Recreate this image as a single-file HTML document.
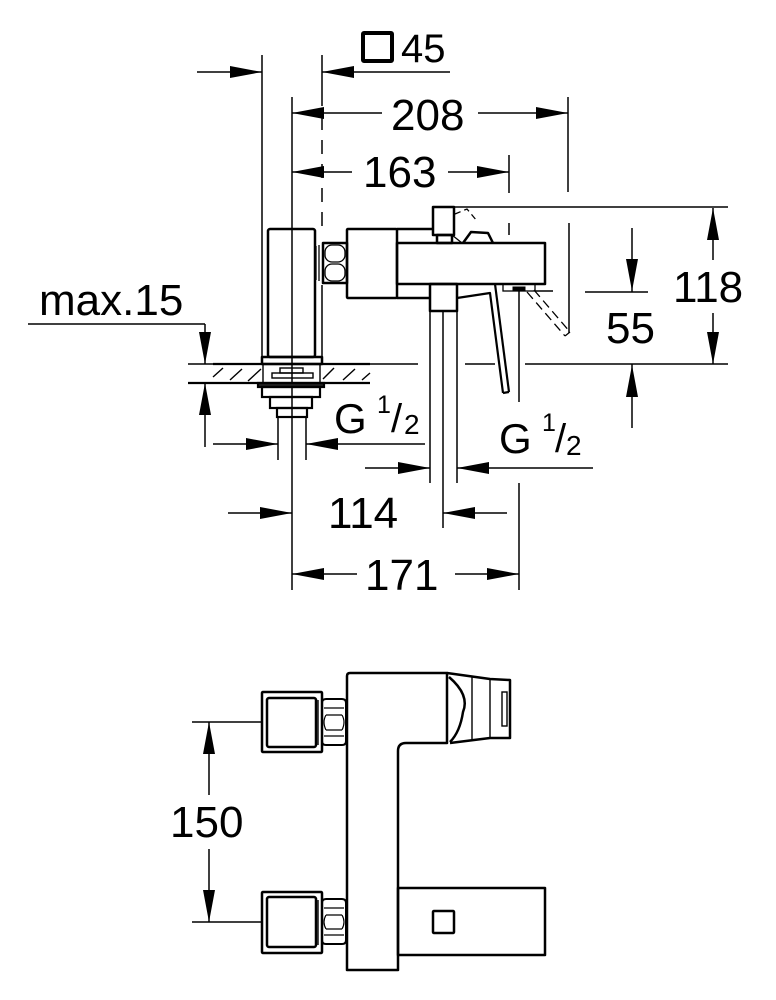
<!DOCTYPE html>
<html><head><meta charset="utf-8"><style>
html,body{margin:0;padding:0;background:#fff;}
svg{display:block;}
text{font-family:"Liberation Sans",Arial,sans-serif;fill:#000;}
</style></head><body>
<svg width="776" height="1000" viewBox="0 0 776 1000" xmlns="http://www.w3.org/2000/svg">
<g stroke="#000" fill="none" stroke-linecap="butt">

<!-- ============ DIMENSION LINES (thin) ============ -->
<g stroke-width="1.5">
  <!-- 45 -->
  <line x1="197" y1="72" x2="262" y2="72"/>
  <line x1="322" y1="72" x2="450" y2="72"/>
  <!-- 208 -->
  <line x1="292" y1="113" x2="382" y2="113"/>
  <line x1="478" y1="113" x2="568" y2="113"/>
  <line x1="568" y1="97" x2="568" y2="192"/>
  <!-- 163 -->
  <line x1="292" y1="172" x2="352" y2="172"/>
  <line x1="448" y1="172" x2="509" y2="172"/>
  <line x1="509" y1="155" x2="509" y2="193"/>
  <line x1="509" y1="223" x2="509" y2="235"/>
  <line x1="569" y1="223" x2="569" y2="333"/>
  <!-- long extension lines -->
  <line x1="262" y1="55" x2="262" y2="357"/>
  <line x1="292" y1="97" x2="292" y2="590"/>
  <line x1="322" y1="55" x2="322" y2="92"/>
  <line x1="322" y1="92" x2="322" y2="230" stroke-dasharray="14 10"/>
  <line x1="322" y1="285" x2="322" y2="357"/>
  <!-- top reference line 118 -->
  <line x1="454" y1="207" x2="728" y2="207"/>
  <!-- 55 upper extension -->
  <line x1="535" y1="291" x2="553" y2="291"/>
  <line x1="585" y1="292" x2="648" y2="292"/>
  <!-- deck level line -->
  <line x1="188" y1="364" x2="418" y2="364"/>
  <line x1="465" y1="364" x2="495" y2="364"/>
  <line x1="525" y1="364" x2="728" y2="364"/>
  <!-- 118 -->
  <line x1="713" y1="208" x2="713" y2="260"/>
  <line x1="713" y1="313" x2="713" y2="364"/>
  <!-- 55 -->
  <line x1="632" y1="228" x2="632" y2="292"/>
  <line x1="632" y1="364" x2="632" y2="428"/>
  <!-- max.15 -->
  <line x1="28" y1="324" x2="205" y2="324"/>
  <line x1="205" y1="324" x2="205" y2="364"/>
  <line x1="205" y1="383" x2="205" y2="447"/>
  <!-- G1/2 left -->
  <line x1="213" y1="444" x2="278" y2="444"/>
  <line x1="306" y1="444" x2="425" y2="444"/>
  <line x1="278" y1="417" x2="278" y2="460"/>
  <line x1="306" y1="417" x2="306" y2="460"/>
  <!-- tube -->
  <line x1="430" y1="311" x2="430" y2="483"/>
  <line x1="443" y1="311" x2="443" y2="528"/>
  <line x1="457" y1="311" x2="457" y2="483"/>
  <!-- outlet centre line -->
  <line x1="519" y1="291" x2="519" y2="402"/>
  <line x1="519" y1="483" x2="519" y2="590"/>
  <!-- G1/2 right -->
  <line x1="365" y1="468" x2="430" y2="468"/>
  <line x1="457" y1="468" x2="593" y2="468"/>
  <!-- 114 -->
  <line x1="228" y1="513" x2="292" y2="513"/>
  <line x1="443" y1="513" x2="507" y2="513"/>
  <!-- 171 -->
  <line x1="292" y1="574" x2="357" y2="574"/>
  <line x1="455" y1="574" x2="519" y2="574"/>
  <!-- 150 -->
  <line x1="192" y1="722" x2="262" y2="722"/>
  <line x1="192" y1="922" x2="262" y2="922"/>
  <line x1="209" y1="722" x2="209" y2="795"/>
  <line x1="209" y1="849" x2="209" y2="922"/>
</g>

<!-- ============ ARROWHEADS ============ -->
<g fill="#000" stroke="none">
  <!-- 45 -->
  <polygon points="262,72 230,66 230,78"/>
  <polygon points="322,72 354,66 354,78"/>
  <!-- 208 -->
  <polygon points="292,113 324,107 324,119"/>
  <polygon points="568,113 536,107 536,119"/>
  <!-- 163 -->
  <polygon points="292,172 324,166 324,178"/>
  <polygon points="509,172 477,166 477,178"/>
  <!-- 118 -->
  <polygon points="713,208 707,240 719,240"/>
  <polygon points="713,364 707,332 719,332"/>
  <!-- 55 -->
  <polygon points="632,291 626,259 638,259"/>
  <polygon points="632,365 626,397 638,397"/>
  <!-- max.15 -->
  <polygon points="205,364 199,332 211,332"/>
  <polygon points="205,383 199,415 211,415"/>
  <!-- G1/2 left -->
  <polygon points="278,444 246,438 246,450"/>
  <polygon points="306,444 338,438 338,450"/>
  <!-- G1/2 right -->
  <polygon points="430,468 398,462 398,474"/>
  <polygon points="457,468 489,462 489,474"/>
  <!-- 114 -->
  <polygon points="292,513 260,507 260,519"/>
  <polygon points="443,513 475,507 475,519"/>
  <!-- 171 -->
  <polygon points="292,574 324,568 324,580"/>
  <polygon points="519,574 487,568 487,580"/>
  <!-- 150 -->
  <polygon points="209,722 203,754 215,754"/>
  <polygon points="209,922 203,890 215,890"/>
</g>

<!-- ============ SIDE VIEW PARTS ============ -->
<g stroke-width="2.5" stroke-linejoin="round">
  <!-- connector box -->
  <rect x="268" y="229" width="47" height="128" rx="2"/>
  <!-- base plate -->
  <rect x="262" y="357" width="60" height="7"/>
  <!-- valve body -->
  <rect x="347" y="229" width="50" height="69" rx="1"/>
  <line x1="397" y1="229" x2="433" y2="229"/>
  <!-- spout -->
  <rect x="397" y="243" width="148" height="41"/>
  <line x1="397" y1="298" x2="430" y2="298"/>
  <!-- collar -->
  <rect x="430" y="284" width="27" height="27"/>
  <!-- handle head -->
  <rect x="433" y="207" width="21" height="28"/>
  <rect x="437" y="235" width="15" height="8"/>
  <!-- small lever top -->
  <polyline points="463,243 471,232 488,233 493,243"/>
  <!-- nut -->
  <rect x="323" y="243" width="24" height="40"/>
</g>
<g stroke-width="1.3">
  <line x1="452" y1="235" x2="462" y2="243"/>
  <!-- washer lines -->
  <line x1="316" y1="246" x2="316" y2="280"/>
  <line x1="319" y1="245" x2="319" y2="281"/>
  <!-- nut halves -->
  <rect x="325" y="245" width="20" height="17" rx="7"/>
  <rect x="325" y="264" width="20" height="17" rx="7"/>
  <!-- rotation dashed -->
  <polyline points="455,214 467,209 477,221" stroke-dasharray="6 4"/>
  <!-- outlet -->
  <rect x="503" y="284" width="32" height="7"/>
  <!-- lever ghost dashed -->
  <line x1="527" y1="292" x2="565" y2="336" stroke-dasharray="9 5"/>
  <line x1="534" y1="290" x2="570" y2="332" stroke-dasharray="9 5"/>
  <line x1="565" y1="336" x2="570" y2="332"/>
</g>
<rect x="513" y="287" width="12" height="3" fill="#000"/>
<!-- lever -->
<g stroke-width="2.2" stroke-linejoin="round">
  <polyline points="457,298 490,293 503,393"/>
  <polyline points="495,284 509,392"/>
  <line x1="503" y1="393" x2="509" y2="392"/>
</g>

<!-- wall / hatched plate -->
<g stroke-width="2.2">
  <line x1="213" y1="364" x2="370" y2="364"/>
  <line x1="188" y1="383" x2="370" y2="383"/>
</g>
<g stroke-width="1.4">
  <line x1="213" y1="377" x2="223" y2="368"/>
  <line x1="230" y1="380" x2="242" y2="369"/>
  <line x1="248" y1="381" x2="261" y2="369"/>
  <line x1="323" y1="379" x2="334" y2="368"/>
  <line x1="343" y1="380" x2="355" y2="369"/>
  <line x1="362" y1="380" x2="370" y2="373"/>
  <!-- inner fitting within wall -->
  <rect x="263" y="364" width="57" height="19"/>
  <rect x="280" y="368" width="23" height="5"/>
  <rect x="272" y="373" width="41" height="5"/>
</g>
<g stroke-width="2.2">
  <rect x="258" y="383" width="66" height="4" fill="#222"/>
  <rect x="262" y="387" width="58" height="10"/>
  <rect x="270" y="397" width="42" height="11"/>
  <rect x="277" y="408" width="30" height="9"/>
</g>

<!-- ============ TOP (PLAN) VIEW ============ -->
<g stroke-width="2.5" stroke-linejoin="round">
  <!-- L-shaped body -->
  <path d="M350,673 L447,673 L447,743 L406,743 Q398,743 398,751 L398,970 L347,970 L347,676 Q347,673 350,673 Z"/>
  <!-- cartridge -->
  <path d="M447,673 L490,679 L510,680 L510,738 L490,738 L450,743"/>
  <path d="M449,677 Q470,695 463,712 Q460,732 450,742"/>
  <!-- spout -->
  <rect x="398" y="888" width="147" height="67"/>
  <rect x="433" y="911" width="21" height="22" rx="1"/>
  <!-- connectors -->
  <rect x="262" y="692" width="60" height="60" rx="1"/>
  <rect x="267" y="698" width="49" height="49" rx="2"/>
  <rect x="262" y="892" width="60" height="61" rx="1"/>
  <rect x="267" y="897" width="49" height="50" rx="2"/>
</g>
<g stroke-width="1.4">
  <line x1="472" y1="676" x2="472" y2="741"/>
  <line x1="490" y1="679" x2="490" y2="738"/>
  <rect x="502" y="692" width="5" height="34"/>
  <line x1="318" y1="700" x2="318" y2="745"/>
  <line x1="318" y1="900" x2="318" y2="945"/>
</g>
<!-- nuts plan view -->
<g stroke-width="2">
  <path d="M326,699 L342,699 Q346,699 346,703 L346,741 Q346,745 342,745 L326,745 Q322,745 322,741 L322,703 Q322,699 326,699 Z"/>
  <path d="M326,899 L342,899 Q346,899 346,903 L346,940 Q346,944 342,944 L326,944 Q322,944 322,940 L322,903 Q322,899 326,899 Z"/>
</g>
<g stroke-width="1.2">
  <path d="M324,708 L344,708 M326,715 L342,715 M326,730 L342,730 M324,736 L344,736"/>
  <path d="M326,715 Q322,722 326,730 M342,715 Q346,722 342,730"/>
  <path d="M324,908 L344,908 M326,915 L342,915 M326,929 L342,929 M324,935 L344,935"/>
  <path d="M326,915 Q322,922 326,929 M342,915 Q346,922 342,929"/>
</g>
</g>

<!-- 45 square symbol -->
<rect x="363" y="33" width="29" height="28" rx="1" fill="none" stroke="#000" stroke-width="4"/>

<!-- ============ TEXT ============ -->
<text x="401" y="62" font-size="40">45</text>
<text x="391" y="130" font-size="44">208</text>
<text x="363" y="187" font-size="44">163</text>
<text x="39" y="315" font-size="44">max.15</text>
<text x="673" y="302" font-size="44">118</text>
<text x="606" y="343" font-size="44">55</text>
<text x="334" y="433" font-size="42">G</text>
<text x="377" y="413" font-size="25">1</text>
<text x="391" y="432" font-size="40">/</text>
<text x="404" y="434" font-size="28">2</text>
<text x="499" y="453" font-size="42">G</text>
<text x="542" y="431" font-size="25">1</text>
<text x="555" y="452" font-size="40">/</text>
<text x="566" y="455" font-size="28">2</text>
<text x="328" y="528" font-size="44">114</text>
<text x="365" y="590" font-size="44">171</text>
<text x="170" y="837" font-size="44">150</text>
</svg>
</body></html>
